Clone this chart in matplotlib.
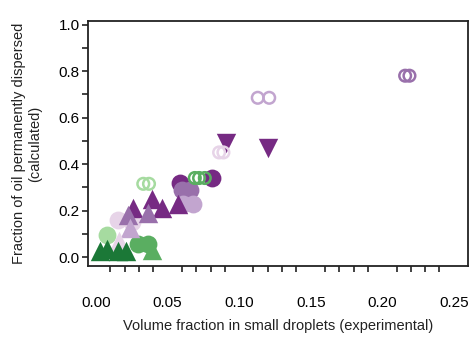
import matplotlib
matplotlib.use('Agg')
import matplotlib.pyplot as plt

plt.rcParams['font.family'] = ['Liberation Sans', 'DejaVu Sans']

# PRGn colours, dark purple -> dark green
c_dp = '#762a83'
c_mp = '#9970ab'
c_lp = '#c2a5cf'
c_vp = '#e7d4e8'
c_lg = '#a6dba0'
c_mg = '#5aae61'
c_dg = '#1b7837'

# filled circles
circ_dp_x = [0.059, 0.081]
circ_dp_y = [0.32, 0.34]
circ_mp_x = [0.060, 0.066]
circ_mp_y = [0.29, 0.29]
circ_lp_x = [0.061, 0.068]
circ_lp_y = [0.23, 0.23]
circ_vp_x = [0.015, 0.025]
circ_vp_y = [0.16, 0.15]
circ_lg_x = [0.008]
circ_lg_y = [0.095]
circ_mg_x = [0.029, 0.036]
circ_mg_y = [0.055, 0.055]

# triangles up
tri_dp_x = [0.026, 0.039, 0.046, 0.057]
tri_dp_y = [0.21, 0.25, 0.21, 0.23]
tri_mp_x = [0.022, 0.036]
tri_mp_y = [0.18, 0.19]
tri_lp_x = [0.024]
tri_lp_y = [0.125]
tri_vp_x = [0.016]
tri_vp_y = [0.07]
tri_mg_x = [0.039]
tri_mg_y = [0.03]
tri_dg_x = [0.003, 0.008, 0.015, 0.021]
tri_dg_y = [0.025, 0.035, 0.025, 0.025]

# triangles down
tdn_dp_x = [0.091, 0.120]
tdn_dp_y = [0.49, 0.47]

# open circles
open_mp_x = [0.216, 0.219]
open_mp_y = [0.78, 0.78]
open_lp_x = [0.113, 0.121]
open_lp_y = [0.685, 0.685]
open_vp_x = [0.086, 0.089]
open_vp_y = [0.45, 0.45]
open_lg_x = [0.033, 0.037]
open_lg_y = [0.315, 0.315]
open_mg_x = [0.069, 0.072, 0.076]
open_mg_y = [0.34, 0.34, 0.34]

fig = plt.figure(figsize=(4.7, 3.4), dpi=100)
ax = fig.add_axes([0.187, 0.218, 0.809, 0.72])

for xs, ys, c in [(circ_dp_x, circ_dp_y, c_dp), (circ_mp_x, circ_mp_y, c_mp),
                  (circ_lp_x, circ_lp_y, c_lp), (circ_vp_x, circ_vp_y, c_vp),
                  (circ_lg_x, circ_lg_y, c_lg), (circ_mg_x, circ_mg_y, c_mg)]:
    ax.scatter(xs, ys, s=165, marker='o', color=c, linewidths=0, zorder=2)

for xs, ys, c in [(tri_dp_x, tri_dp_y, c_dp), (tri_mp_x, tri_mp_y, c_mp),
                  (tri_lp_x, tri_lp_y, c_lp), (tri_vp_x, tri_vp_y, c_vp),
                  (tri_mg_x, tri_mg_y, c_mg), (tri_dg_x, tri_dg_y, c_dg)]:
    ax.scatter(xs, ys, s=195, marker='^', color=c, linewidths=0, zorder=3)

ax.scatter(tdn_dp_x, tdn_dp_y, s=195, marker='v', color=c_dp, linewidths=0, zorder=3)

for xs, ys, c in [(open_mp_x, open_mp_y, c_mp), (open_lp_x, open_lp_y, c_lp),
                  (open_vp_x, open_vp_y, c_vp), (open_lg_x, open_lg_y, c_lg),
                  (open_mg_x, open_mg_y, c_mg)]:
    ax.scatter(xs, ys, s=70, marker='o', facecolors='none', edgecolors=c,
               linewidths=1.8, zorder=4)

ax.set_xlim(-0.0057, 0.26)
ax.set_ylim(-0.038, 1.015)
ax.set_xticks([0, 0.05, 0.10, 0.15, 0.20, 0.25])
ax.set_xticklabels(['0.00', '0.05', '0.10', '0.15', '0.20', '0.25'])
ax.set_xticks([i / 100 for i in range(26)], minor=True)
ax.set_yticks([0, 0.2, 0.4, 0.6, 0.8, 1.0])
ax.set_yticklabels(['0.0', '0.2', '0.4', '0.6', '0.8', '1.0'])
ax.set_yticks([0.1, 0.3, 0.5, 0.7, 0.9], minor=True)

for sp in ax.spines.values():
    sp.set_linewidth(1.3)
    sp.set_color('#222222')
ax.tick_params(axis='x', which='both', direction='out', length=4.5, width=1.2,
               labelsize=11, color='#222222', pad=22)
ax.tick_params(axis='x', which='major', length=0)
ax.tick_params(axis='y', which='both', direction='out', length=4, width=1.2,
               labelsize=11, color='#222222', pad=2)

ax.set_xlabel('Volume fraction in small droplets (experimental)', fontsize=10.5,
              labelpad=6, color='#222222')
ax.set_ylabel('Fraction of oil permanently dispersed\n(calculated)', fontsize=10.5,
              labelpad=12, color='#222222')

fig.savefig('out.png', dpi=100)
